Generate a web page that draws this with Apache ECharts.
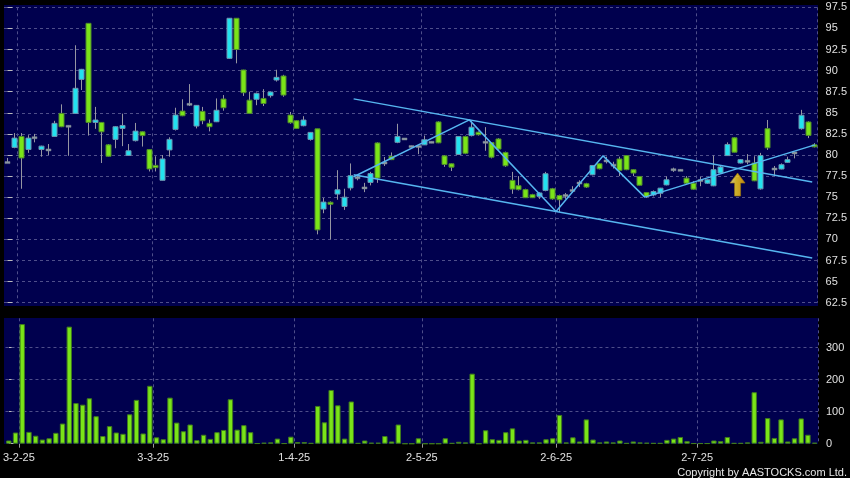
<!DOCTYPE html>
<html>
<head>
<meta charset="utf-8">
<script src="https://cdn.jsdelivr.net/npm/echarts@6/dist/echarts.min.js"></script>
<style>
html,body{margin:0;padding:0;background:#000;}
#chart{width:850px;height:478px;}
</style>
</head>
<body>
<div id="chart"></div>
<script>
// ---- trading days (day numbers per month, 2025) ----
const tradingDays = {
  1: [27, 28],
  2: [3,4,5,6,7,10,11,12,13,14,17,18,19,20,21,24,25,26,27,28],
  3: [3,4,5,6,7,10,11,12,13,14,17,18,19,20,21,24,25,26,27,28,31],
  4: [1,2,3,7,8,9,10,11,14,15,16,17,22,23,24,25,28,29,30],
  5: [2,6,7,8,9,12,13,14,15,16,19,20,21,22,23,26,27,28,29,30],
  6: [2,3,4,5,6,9,10,11,12,13,16,17,18,19,20,23,24,25,26,27,30],
  7: [2,3,4,7,8,9,10,11,14,15,16,17,18,21,22,23,24,25]
};
const dates = [];
Object.keys(tradingDays).forEach(m => tradingDays[m].forEach(d => dates.push(d + '-' + m + '-25')));

const tickLabels = ['3-2-25', '3-3-25', '1-4-25', '2-5-25', '2-6-25', '2-7-25'];

const open = [79.1,80.9,82.2,80.65,82.05,80.65,80.6,82.2,84.93,83.4,84.93,88.96,95.6,83.86,83.86,81.2,81.85,83.15,79.95,81.7,
82.75,80.64,78.77,77.0,80.6,83.03,85.2,86.0,83.43,85.17,83.75,83.94,86.63,91.45,96.2,90.07,86.5,86.6,86.7,87.03,
88.88,89.36,84.73,84.06,83.47,81.85,83.1,73.6,74.4,75.37,73.9,76.1,77.3,76.1,76.75,81.43,79.05,79.84,81.5,81.9,
81.0,81.0,81.2,81.5,83.92,79.9,78.96,80.06,82.19,82.3,82.7,81.5,81.48,81.9,80.3,76.99,76.36,75.9,75.3,75.1,
75.8,76.0,75.2,75.2,75.8,76.67,76.6,77.66,78.96,79.3,78.8,79.53,79.93,78.26,77.46,75.55,75.27,75.47,76.46,78.26,
78.18,77.26,76.66,76.98,76.66,76.35,77.86,79.93,82.04,79.05,79.25,79.05,75.99,83.12,78.34,78.34,79.13,80.25,83.12,83.91,
81.2];
const close = [79.1,82.0,79.65,82.0,82.05,81.05,80.6,83.75,83.35,83.4,87.9,90.15,83.86,84.14,82.75,79.85,83.35,83.5,80.5,82.83,
82.3,78.35,78.5,79.53,81.85,84.73,84.65,86.0,85.88,84.06,83.35,85.3,85.6,96.2,92.5,87.38,84.93,87.3,86.1,87.46,
89.2,87.1,83.82,83.15,84.14,82.68,71.13,74.42,74.25,75.88,75.0,77.55,77.3,76.1,77.8,77.27,79.05,79.45,82.2,81.9,
81.0,81.0,81.8,81.5,81.44,78.88,78.56,82.19,80.2,83.29,82.4,81.5,79.74,80.7,78.72,75.96,75.9,74.94,74.94,75.5,
77.78,74.8,74.7,75.2,75.8,76.67,76.2,78.76,78.37,79.3,78.8,78.18,78.26,77.86,76.42,75.07,75.67,76.07,77.06,78.26,
78.18,76.66,75.95,76.98,77.06,78.26,78.58,81.25,80.33,79.45,79.25,76.94,79.93,80.85,78.34,78.85,79.45,80.25,84.71,82.32,
81.0];
const low = [79.05,80.8,76.0,80.25,81.5,79.8,80.0,82.2,83.3,79.9,84.9,87.7,82.3,83.1,79.05,79.8,80.8,81.05,79.9,81.6,
81.0,78.05,78.05,77.0,79.8,82.9,84.6,85.8,83.15,83.65,82.8,83.9,85.25,91.4,90.86,87.0,84.9,85.9,85.8,86.8,
88.7,86.9,83.7,83.1,83.4,81.7,70.6,73.1,70.0,74.7,73.5,75.8,77.0,75.6,76.4,76.7,78.7,79.4,81.4,81.8,
80.9,80.1,81.2,81.4,81.4,78.6,78.1,80.0,80.1,82.2,82.3,80.5,79.6,80.6,78.6,75.4,75.8,74.9,74.9,74.8,
75.7,74.7,73.25,74.8,75.5,76.2,76.1,77.6,78.3,79.0,78.4,77.5,78.2,77.5,76.4,74.9,75.1,75.0,76.4,78.0,
78.1,76.5,75.9,76.3,76.6,76.3,77.8,79.9,80.3,79.0,78.9,76.9,75.9,80.6,77.5,78.3,79.1,79.6,83.0,82.0,
80.9];
const high = [79.65,82.6,82.6,82.35,82.5,81.1,81.3,84.05,86.0,83.5,93.0,90.2,95.6,85.7,83.9,81.3,83.4,84.9,81.3,83.8,
82.8,80.7,79.85,80.0,82.1,85.6,86.6,88.4,85.9,85.7,84.2,86.7,87.1,96.2,96.2,90.1,87.5,87.4,87.8,87.5,
90.1,89.5,85.1,84.1,84.6,82.7,83.1,74.9,74.5,78.2,76.0,79.0,77.55,76.7,78.0,81.5,79.76,80.3,83.7,82.0,
81.1,81.1,82.3,81.6,84.0,80.0,79.0,82.2,82.3,84.0,82.8,83.3,81.5,82.0,80.4,78.0,77.5,76.0,75.4,75.6,
78.0,76.1,75.3,75.5,76.3,77.0,76.7,78.8,79.0,79.8,79.2,79.8,80.0,78.3,77.5,75.6,75.8,76.1,77.46,78.5,
78.3,77.5,76.9,77.4,77.1,79.93,78.7,81.5,82.1,79.5,80.1,79.85,80.25,84.15,78.7,79.0,79.8,80.3,85.35,84.0,
81.4];
const volume = [10,35,374,37,25,13,17,34,63,366,127,122,142,86,24,55,35,31,92,137,
32,181,20,14,144,66,39,60,11,28,15,36,43,139,44,58,36,1,3,4,
16,1,22,5,5,2,118,67,168,120,16,132,2,10,3,3,24,7,60,0,
0,17,0,0,0,17,2,6,4,219,0,42,14,12,36,48,10,12,4,4,
14,17,90,4,20,7,76,13,4,7,4,10,2,7,4,3,2,2,12,16,
21,8,1,1,1,10,8,21,2,2,4,161,6,80,18,76,7,17,79,28,
3];

// ---- drawn trend lines: [bar index, price] ----
const upperChannel = [[51.5, 86.65], [119.7, 76.79]];
const lowerChannel = [[51.5, 77.65], [119.7, 67.8]];
const zigzag = [[51.5, 77.42], [68.7, 84.16], [81.6, 73.31], [88.6, 79.9], [94.8, 75.01], [120.1, 81.2]];
const arrowMark = [[108.6, 76.5]];

const priceTicks = {min: 62.5, max: 97.5, step: 2.5};
const volumeTicks = [0, 100, 200, 300];

const tickIdx = tickLabels.map(t => dates.indexOf(t));
const tickPos = tickIdx.map(i => i - 0.5);
const candleData = dates.map((d, i) => [i, open[i], close[i], low[i], high[i]]);

const GRID_COLOR = '#4e4e8a';
const TEXT = '#e0e0e0';
const FONT = '"Liberation Sans", Arial, sans-serif';

const chart = echarts.init(document.getElementById('chart'), null, {renderer: 'canvas'});

const splitByMonth = {
  show: true,
  interval: (i) => tickIdx.indexOf(i) >= 0,
  lineStyle: {color: GRID_COLOR, type: [3, 3], width: 1}
};

chart.setOption({
  animation: false,
  backgroundColor: '#000000',
  graphic: [
    {type: 'rect', z: -10, shape: {x: 4, y: 5, width: 814, height: 301}, style: {fill: '#00004e'}},
    {type: 'rect', z: -10, shape: {x: 4, y: 318, width: 814, height: 126}, style: {fill: '#00004e'}},
    {type: 'text', right: 3, bottom: 0, style: {text: 'Copyright by AASTOCKS.com Ltd.', fill: '#e6e6e6', font: '11px ' + FONT}}
  ],
  grid: [
    {left: 4, right: 32, top: 7.3, bottom: 175.3},
    {left: 4, right: 32, top: 318.3, bottom: 34.3}
  ],
  xAxis: [
    {type: 'category', gridIndex: 0, data: dates, boundaryGap: true,
     axisLine: {show: false}, axisTick: {show: false}, axisLabel: {show: false}, splitLine: splitByMonth},
    {type: 'category', gridIndex: 1, data: dates, boundaryGap: true,
     axisLine: {show: false}, axisTick: {show: false}, axisLabel: {show: false}, splitLine: splitByMonth},
    {type: 'value', gridIndex: 1, min: -0.5, max: dates.length - 0.5, position: 'bottom',
     axisLine: {show: false}, splitLine: {show: false},
     axisTick: {show: true, length: 4, customValues: tickPos, lineStyle: {color: '#9a9a9a'}},
     axisLabel: {show: true, customValues: tickPos, margin: 9, color: TEXT, fontSize: 11, fontFamily: FONT,
       formatter: (v) => { const k = tickPos.findIndex(p => Math.abs(p - v) < 0.01); return k >= 0 ? tickLabels[k] : ''; }}},
    {type: 'value', gridIndex: 0, min: -0.5, max: dates.length - 0.5, show: false}
  ],
  yAxis: [
    {type: 'value', gridIndex: 0, position: 'right', min: priceTicks.min, max: priceTicks.max, interval: priceTicks.step,
     axisLine: {show: false},
     axisTick: {show: true, length: 5, lineStyle: {color: '#bbbbbb'}},
     axisLabel: {color: TEXT, fontSize: 11, fontFamily: FONT, margin: 8},
     splitLine: {show: true, lineStyle: {color: GRID_COLOR, type: [3, 3], width: 1}}},
    {type: 'value', gridIndex: 1, position: 'right', min: 0, max: 392, interval: 100,
     axisLine: {show: false},
     axisTick: {show: true, length: 5, customValues: volumeTicks, lineStyle: {color: '#bbbbbb'}},
     axisLabel: {color: TEXT, fontSize: 11, fontFamily: FONT, margin: 8, customValues: volumeTicks,
       formatter: (v) => (v % 100 === 0 ? String(v) : '')},
     splitLine: {show: false}}
  ],
  series: [
    {
      type: 'custom', name: 'price', xAxisIndex: 0, yAxisIndex: 0, data: candleData,
      encode: {x: 0, y: [1, 2, 3, 4]}, clip: true,
      renderItem: function (params, api) {
        const i = api.value(0), o = api.value(1), c = api.value(2), l = api.value(3), h = api.value(4);
        const pTop = api.coord([i, Math.max(o, c)]);
        const pBot = api.coord([i, Math.min(o, c)]);
        const pHi = api.coord([i, h]);
        const pLo = api.coord([i, l]);
        const w = Math.round(api.size([1, 0])[0] * 0.8);
        const x = Math.round(pTop[0]) + 0.5;
        const children = [
          {type: 'line', shape: {x1: x, y1: pHi[1], x2: x, y2: pLo[1]}, style: {stroke: '#9696a2', lineWidth: 1}}
        ];
        if (o === c) {
          children.push({type: 'rect', shape: {x: x - w / 2, y: pTop[1] - 1, width: w, height: 2},
            style: {fill: '#8e9aa4', stroke: '#7a8490', lineWidth: 0.5}});
        } else {
          const up = c > o;
          children.push({type: 'rect', shape: {x: x - w / 2, y: pTop[1], width: w, height: Math.max(pBot[1] - pTop[1], 2)},
            style: {fill: up ? '#22e2f0' : '#7ae418', stroke: up ? '#6b93b0' : '#4f8a2c', lineWidth: 1}});
        }
        return {type: 'group', children: children};
      },
      z: 3
    },
    {
      type: 'bar', name: 'volume', xAxisIndex: 1, yAxisIndex: 1, data: volume, barWidth: '80%',
      itemStyle: {color: '#7ae418', borderColor: '#3f7a1e', borderWidth: 1},
      z: 3,
      markLine: {
        silent: true, z: 1, symbol: ['none', 'none'], label: {show: false},
        lineStyle: {color: GRID_COLOR, type: [3, 3], width: 1},
        emphasis: {disabled: true},
        data: [{yAxis: 100}, {yAxis: 200}, {yAxis: 300}]
      }
    },
    {type: 'line', xAxisIndex: 3, yAxisIndex: 0, data: upperChannel, symbol: 'none', silent: true, z: 4,
     lineStyle: {color: '#56b6f0', width: 1.5}},
    {type: 'line', xAxisIndex: 3, yAxisIndex: 0, data: lowerChannel, symbol: 'none', silent: true, z: 4,
     lineStyle: {color: '#56b6f0', width: 1.5}},
    {type: 'line', xAxisIndex: 3, yAxisIndex: 0, data: zigzag, symbol: 'none', silent: true, z: 4,
     lineStyle: {color: '#56b6f0', width: 1.5}},
    {type: 'scatter', xAxisIndex: 3, yAxisIndex: 0, data: arrowMark, silent: true, z: 5,
     symbol: 'path://M7.5,0 L15,10 L10.5,10 L10.5,23 L4.5,23 L4.5,10 L0,10 Z', symbolSize: [15, 23],
     itemStyle: {
       color: {type: 'linear', x: 0, y: 0, x2: 1, y2: 0, colorStops: [
         {offset: 0, color: '#fff8b0'}, {offset: 0.4, color: '#ffdc1e'}, {offset: 1, color: '#f2a800'}]},
       borderColor: '#9a7410', borderWidth: 0.8
     }}
  ]
});
</script>
</body>
</html>
